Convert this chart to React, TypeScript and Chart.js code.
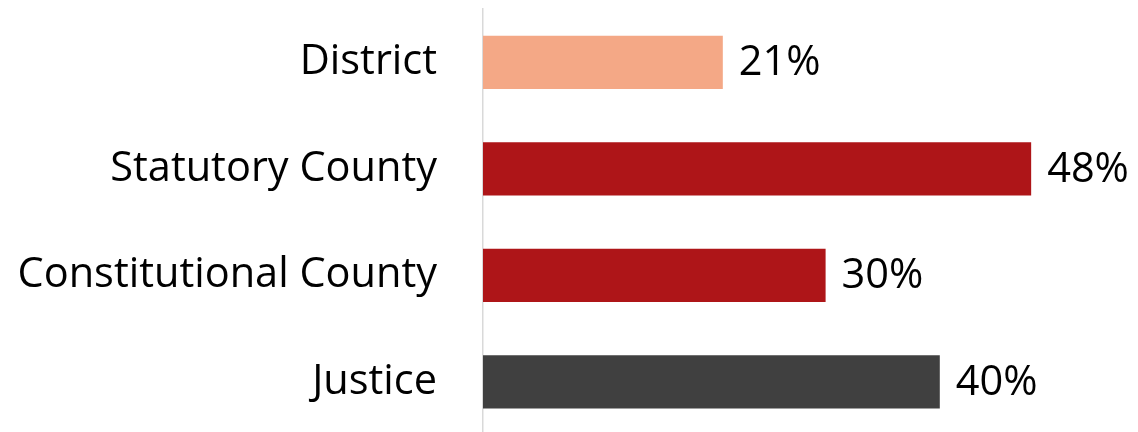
import React, { useEffect, useRef } from "react";
import { Chart, registerables } from "chart.js";

Chart.register(...registerables);

const categories = ["District", "Statutory County", "Constitutional County", "Justice"];
const values = [21, 48, 30, 40];
const barColors = ["#F4A886", "#AE1518", "#AE1518", "#404040"];
const xMax = 50;

const FONT = "'Open Sans', sans-serif";
const FONT_SIZE = 41.5;

const valueLabels = {
  id: "valueLabels",
  afterDatasetsDraw(chart: any) {
    const ctx = chart.ctx;
    const meta = chart.getDatasetMeta(0);
    ctx.save();
    ctx.font = `${FONT_SIZE}px ${FONT}`;
    ctx.fillStyle = "#000000";
    ctx.textAlign = "left";
    ctx.textBaseline = "middle";
    meta.data.forEach((bar: any, i: number) => {
      ctx.fillText(`${values[i]}%`, bar.x + 16, bar.y + 1);
    });
    ctx.restore();
  },
};

export default function App() {
  const ref = useRef<HTMLCanvasElement>(null);
  useEffect(() => {
    if (!ref.current) return;
    const chart = new Chart(ref.current, {
      type: "bar",
      data: {
        labels: categories,
        datasets: [
          {
            data: values,
            backgroundColor: barColors,
            borderWidth: 0,
            categoryPercentage: 1,
            barPercentage: 0.5,
          },
        ],
      },
      options: {
        indexAxis: "y",
        animation: false,
        responsive: true,
        maintainAspectRatio: false,
        layout: { padding: { top: 9, bottom: 0, left: 0, right: 84 } },
        plugins: { legend: { display: false }, tooltip: { enabled: false } },
        scales: {
          x: {
            min: 0,
            max: xMax,
            display: false,
          },
          y: {
            grid: {
              display: true,
              drawOnChartArea: false,
              drawTicks: true,
              tickLength: 46,
              color: "rgba(0,0,0,0)",
            },
            border: { display: true, color: "#D9D9D9", width: 1.5 },
            ticks: {
              padding: 0,
              color: "#000000",
              font: { family: FONT, size: FONT_SIZE },
            },
            afterFit(scale: any) {
              scale.width = 483;
              scale.paddingTop = 0;
              scale.paddingBottom = 0;
            },
          },
        },
      },
      plugins: [valueLabels],
    });
    return () => chart.destroy();
  }, []);
  return (
    <div style={{ position: "fixed", left: 0, top: 0, width: 1138, height: 435, background: "#fff" }}>
      <canvas ref={ref} />
    </div>
  );
}
